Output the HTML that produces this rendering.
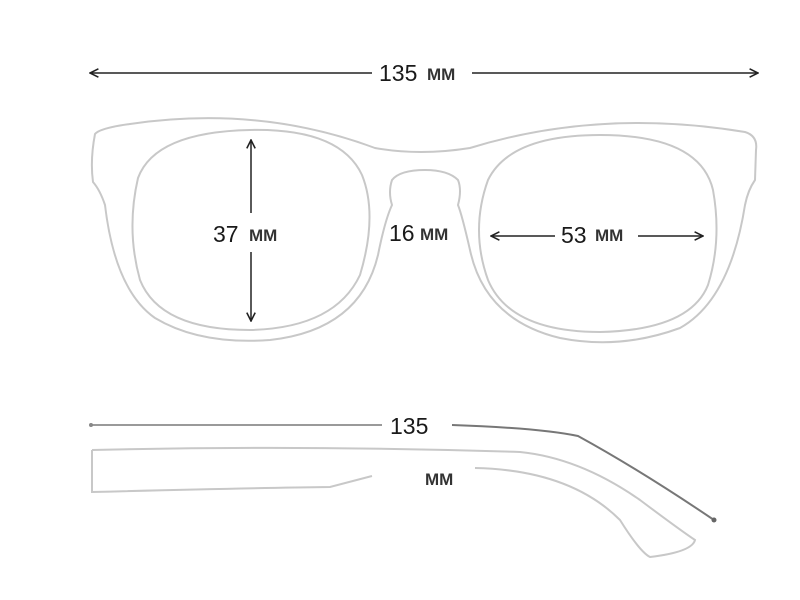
<!DOCTYPE html>
<html><head><style>
html,body{margin:0;padding:0;background:#fff;width:800px;height:600px;overflow:hidden}
svg{display:block}
.t{font-family:"Liberation Sans",sans-serif;fill:#1a1a1a}
.m{font-family:"Liberation Sans",sans-serif;font-weight:bold;fill:#333}
</style></head><body>
<svg width="800" height="600" viewBox="0 0 800 600" xmlns="http://www.w3.org/2000/svg">
<defs>
<marker id="a" viewBox="0 0 10 10" refX="9" refY="5" markerWidth="7" markerHeight="7" orient="auto-start-reverse"><path d="M1,1 L9,5 L1,9" fill="none" stroke="#222" stroke-width="1.5"/></marker>
</defs>
<g fill="none" stroke="#c8c8c8" stroke-width="2">
<path d="M95,134 Q100,128 130,124 Q260,105 375,148 Q420,156 470,148 Q600,108 745,132 Q758,136 756,150 L755,180 Q748,190 745,205 Q730,300 680,328 Q620,350 560,338 Q485,320 470,250 Q462,215 458,205 Q462,190 458,180 Q448,170 425,170 Q400,170 392,180 Q388,192 392,205 Q385,220 378,255 Q360,330 270,340 Q200,345 155,318 Q115,290 105,205 Q100,190 93,182 Q90,160 95,134 Z"/>
<path d="M250,130 Q340,128 362,175 Q378,215 360,275 Q335,328 250,330 Q160,330 140,280 Q126,230 138,178 Q155,132 250,130 Z"/>
<path d="M600,135 Q700,135 713,190 Q722,240 708,285 Q690,330 600,332 Q510,332 488,280 Q470,230 488,180 Q510,135 600,135 Z"/>
<path d="M92,450 Q300,445 520,452 Q580,458 640,500 Q680,530 695,540 Q692,552 650,557 Q640,552 620,520 Q570,470 475,468"/>
<path d="M92,450 L92,492 Q250,488 330,487 L372,476"/>
</g>
<g stroke="#222" stroke-width="1.5" fill="none">
<line x1="90" y1="73" x2="372" y2="73" marker-start="url(#a)"/>
<line x1="472" y1="73" x2="758" y2="73" marker-end="url(#a)"/>
<line x1="251" y1="140" x2="251" y2="213" marker-start="url(#a)"/>
<line x1="251" y1="252" x2="251" y2="321" marker-end="url(#a)"/>
<line x1="491" y1="236" x2="555" y2="236" marker-start="url(#a)"/>
<line x1="638" y1="236" x2="703" y2="236" marker-end="url(#a)"/>
</g>
<text class="t" x="379" y="81" font-size="23">135</text><text class="m" x="427" y="80" font-size="17">MM</text>
<text class="t" x="213" y="242" font-size="23">37</text><text class="m" x="249" y="241" font-size="17">MM</text>
<text class="t" x="389" y="241" font-size="23">16</text><text class="m" x="420" y="240" font-size="17">MM</text>
<text class="t" x="561" y="243" font-size="23">53</text><text class="m" x="595" y="241" font-size="17">MM</text>
<g fill="none" stroke-width="2">
<line x1="91" y1="425" x2="382" y2="425" stroke="#9a9a9a"/>
<path d="M452,425 Q540,428 578,436 Q640,470 714,520" stroke="#777"/>
</g>
<circle cx="91" cy="425" r="2" fill="#888"/>
<circle cx="714" cy="520" r="2.5" fill="#666"/>
<text class="t" x="390" y="434" font-size="23">135</text>
<text class="m" x="425" y="485" font-size="17">MM</text>
</svg>
</body></html>
